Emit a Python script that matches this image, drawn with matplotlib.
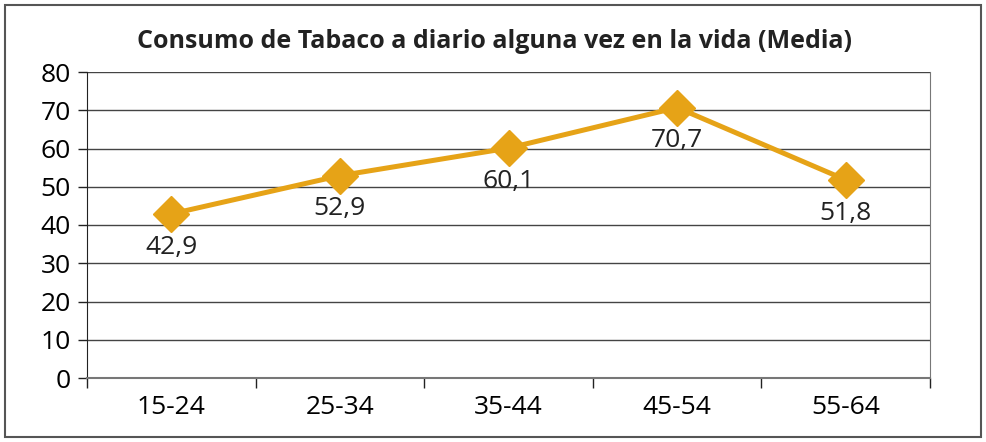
import matplotlib.pyplot as plt
from matplotlib.patches import Rectangle

plt.rcParams["font.family"] = ["Open Sans", "DejaVu Sans"]

categories = ["15-24", "25-34", "35-44", "45-54", "55-64"]
values = [42.9, 52.9, 60.1, 70.7, 51.8]
value_labels = ["42,9", "52,9", "60,1", "70,7", "51,8"]
title = "Consumo de Tabaco a diario alguna vez en la vida (Media)"

LINE_COLOR = "#E6A317"

fig = plt.figure(figsize=(9.86, 4.42), dpi=100, facecolor="white")
ax = fig.add_axes([87 / 986, 1 - 378 / 442, (930 - 87) / 986, (378 - 72) / 442])

# outer frame around the whole chart
fig.patches.append(Rectangle((5 / 986, 5 / 442), 976 / 986, 432 / 442,
                             transform=fig.transFigure, fill=False,
                             edgecolor="#555555", linewidth=1.5))

x = list(range(len(categories)))
ax.plot(x, values, color=LINE_COLOR, linewidth=3.6, marker="D",
        markersize=18, markeredgecolor=LINE_COLOR, zorder=3)

for xi, v, lab in zip(x, values, value_labels):
    ax.annotate(lab, xy=(xi, v), xytext=(0, -24), textcoords="offset points",
                ha="center", va="center", fontsize=19, color="#222222")

ax.set_xlim(-0.5, len(categories) - 0.5)
ax.set_ylim(0, 80)
ax.set_yticks(range(0, 81, 10))
ax.set_xticks(x)
ax.set_xticklabels(categories)
ax.set_xticks([i - 0.5 for i in range(len(categories) + 1)], minor=True)

ax.grid(axis="y", color="#444444", linewidth=1.0)
ax.set_axisbelow(True)

ax.tick_params(axis="y", length=6.5, width=1, color="#222222", labelsize=19, pad=5)
ax.tick_params(axis="x", which="major", length=0, labelsize=19, pad=12)
ax.tick_params(axis="x", which="minor", length=7, width=1, color="#222222")

ax.spines["left"].set_color("#222222")
ax.spines["bottom"].set_color("#777777")
ax.spines["bottom"].set_linewidth(1.5)
ax.spines["right"].set_color("#777777")
ax.spines["top"].set_visible(False)

fig.text(494 / 986, 1 - 42 / 442, title, ha="center", va="center",
         fontsize=18, fontweight="bold", color="#222222")

fig.savefig("out.png", dpi=100, facecolor="white")
